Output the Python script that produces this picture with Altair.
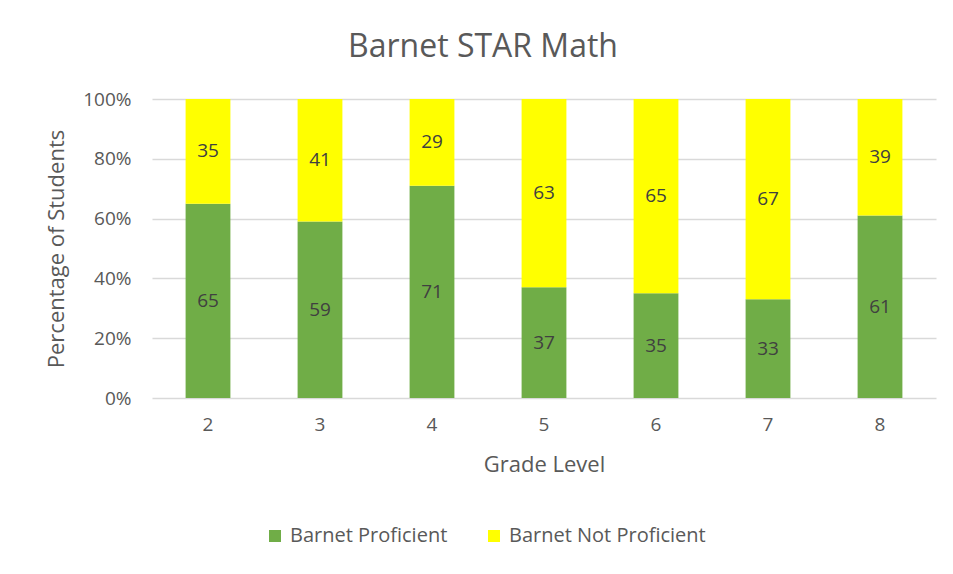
import altair as alt
import pandas as pd

grades = ["2", "3", "4", "5", "6", "7", "8"]
proficient = [65, 59, 71, 37, 35, 33, 61]
not_proficient = [35, 41, 29, 63, 65, 67, 39]
series = ["Barnet Proficient", "Barnet Not Proficient"]
colors = ["#70AD47", "#FFFF00"]

rows = []
for g, p, n in zip(grades, proficient, not_proficient):
    rows.append({"grade": g, "series": series[0], "value": p, "order": 0})
    rows.append({"grade": g, "series": series[1], "value": n, "order": 1})
df = pd.DataFrame(rows)

FONT = "Open Sans"
TXT = "#595959"

base = alt.Chart(df).transform_stack(
    stack="value", as_=["v0", "v1"], groupby=["grade"], sort=[alt.SortField("order")]
).transform_calculate(mid="(datum.v0 + datum.v1) / 2")

xenc = alt.X(
    "grade:N",
    sort=grades,
    scale=alt.Scale(paddingInner=0.6, paddingOuter=0.3),
    axis=alt.Axis(
        title="Grade Level", labelAngle=0, ticks=False, domain=False,
        labelFont=FONT, labelFontSize=19, labelColor=TXT, labelPadding=17,
        titleFont=FONT, titleFontSize=22, titleFontWeight="normal", titleColor=TXT,
        titlePadding=20,
    ),
)

bars = base.mark_bar().encode(
    x=xenc,
    y=alt.Y(
        "v0:Q",
        scale=alt.Scale(domain=[0, 100]),
        axis=alt.Axis(
            title="Percentage of Students", values=[0, 20, 40, 60, 80, 100],
            labelExpr="datum.value + '%'", ticks=False, domain=False,
            gridColor="#D9D9D9", gridWidth=1.3,
            labelFont=FONT, labelFontSize=19, labelColor=TXT, labelPadding=21,
            titleFont=FONT, titleFontSize=22, titleFontWeight="normal", titleColor=TXT,
            titlePadding=14,
        ),
    ),
    y2="v1:Q",
    color=alt.Color(
        "series:N",
        scale=alt.Scale(domain=series, range=colors),
        legend=alt.Legend(
            title=None, orient="none", legendX=113, legendY=427, direction="horizontal",
            symbolType="square", symbolSize=144, symbolStrokeWidth=0,
            labelFont=FONT, labelFontSize=20, labelColor=TXT, labelOffset=5,
            labelLimit=400, columnPadding=36, padding=0,
        ),
    ),
    order=alt.Order("order:Q"),
)

labels = base.mark_text(font=FONT, fontSize=19, color="#404040").encode(
    x=alt.X("grade:N", sort=grades),
    y="mid:Q",
    text="value:Q",
)

chart = (bars + labels).properties(
    width=784,
    height=299,
    padding={"left": 144, "top": 91, "right": 9, "bottom": 168},
    autosize=alt.AutoSizeParams(type="none"),
    background="white",
    title=alt.TitleParams(
        "Barnet STAR Math", font=FONT, fontSize=32, fontWeight="normal",
        color=TXT, dx=-61, offset=26,
    ),
).configure_view(stroke=None)

chart.save("out.html", embed_options={"renderer": "svg", "actions": False})
